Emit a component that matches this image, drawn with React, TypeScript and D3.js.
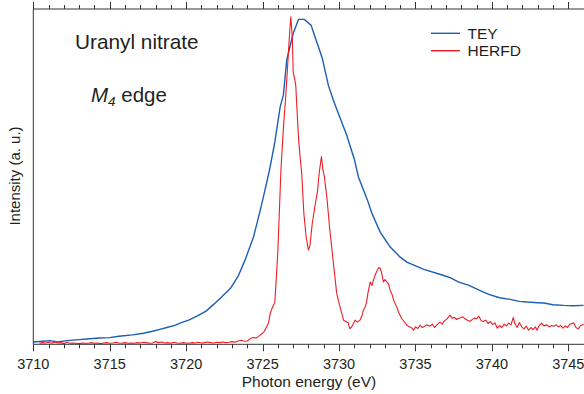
import { useEffect, useRef } from 'react';
import * as d3 from 'd3';

// TEY (total electron yield)
const teyEnergy = [
  3710.0, 3710.6, 3711.1, 3711.6, 3712.2, 3713.0, 3713.5, 3714.3, 3715.0, 3715.6, 3716.5, 3717.2, 3717.8,
  3718.4, 3718.8, 3719.3, 3719.6, 3720.2, 3720.7, 3721.3, 3721.8, 3722.3, 3722.9, 3723.4, 3723.85, 3724.4,
  3724.8, 3725.05, 3725.45, 3725.8, 3726.15, 3726.36, 3726.58, 3727.0, 3727.35, 3727.73, 3728.17, 3728.55,
  3728.9, 3729.3, 3729.63, 3730.07, 3730.5, 3731.0, 3731.27, 3731.86, 3732.15, 3732.7, 3733.35, 3734.0,
  3734.44, 3735.5, 3736.8, 3737.3, 3737.8, 3738.5, 3739.2, 3739.8, 3740.5, 3741.2, 3741.8, 3742.3, 3743.0,
  3743.4, 3744.0, 3744.7, 3745.3, 3746.0,
];
const teyIntensity = [
  0.7, 0.9, 1.1, 0.7, 1.1, 1.4, 1.6, 1.9, 2.0, 2.4, 2.8, 3.3, 3.9,
  4.6, 5.1, 5.7, 6.3, 7.3, 8.4, 9.9, 11.9, 14.0, 16.7, 20.3, 25.1, 31.9,
  39.1, 43.9, 51.9, 60.3, 70.8, 74.3, 84.8, 92.7, 96.9, 96.9, 95.2, 90.1,
  85.4, 77.3, 72.8, 67.5, 62.4, 55.2, 49.9, 43.0, 39.1, 33.4, 29.0, 26.0,
  24.5, 22.4, 20.6, 19.8, 18.6, 17.6, 16.1, 14.9, 13.9, 13.4, 12.8, 12.6, 12.4,
  12.3, 11.8, 11.6, 11.5, 11.6,
];

// HERFD
const herfdEnergy = [
  3710.4, 3710.6, 3710.8, 3711.0, 3711.2, 3711.4, 3711.6, 3711.8, 3712.0, 3712.2, 3712.4, 3712.6, 3712.8,
  3713.0, 3713.2, 3713.4, 3713.6, 3713.8, 3714.0, 3714.2, 3714.4, 3714.6, 3714.8, 3715.0, 3715.2, 3715.4,
  3715.6, 3715.8, 3716.0, 3716.2, 3716.4, 3716.6, 3716.8, 3717.0, 3717.2, 3717.4, 3717.6, 3717.8, 3718.0,
  3718.2, 3718.4, 3718.6, 3718.8, 3719.0, 3719.2, 3719.4, 3719.6, 3719.8, 3720.0, 3720.2, 3720.4, 3720.6,
  3720.8, 3721.0, 3721.2, 3721.4, 3721.6, 3721.8, 3722.0, 3722.2, 3722.4, 3722.6, 3722.8, 3723.0, 3723.2,
  3723.4, 3723.6, 3723.8, 3724.0, 3724.2, 3724.4, 3724.6, 3724.8, 3725.0, 3725.1, 3725.2, 3725.3, 3725.4,
  3725.5, 3725.6, 3725.7, 3725.8, 3725.9, 3726.0, 3726.1, 3726.2, 3726.3, 3726.4, 3726.5, 3726.6, 3726.7,
  3726.8, 3726.85, 3726.95, 3727.0, 3727.1, 3727.17, 3727.25, 3727.35, 3727.45, 3727.56, 3727.7, 3727.85,
  3728.0, 3728.1, 3728.25, 3728.42, 3728.6, 3728.7, 3728.85, 3728.95, 3729.04, 3729.2, 3729.4, 3729.6,
  3729.85, 3730.07, 3730.3, 3730.45, 3730.6, 3730.7, 3730.8, 3730.9, 3731.05, 3731.2, 3731.37, 3731.5,
  3731.6, 3731.7, 3731.8, 3731.9, 3732.04, 3732.15, 3732.25, 3732.35, 3732.5, 3732.6, 3732.7, 3732.8,
  3732.9, 3733.0, 3733.1, 3733.23, 3733.35, 3733.45, 3733.6, 3733.78, 3733.9, 3734.1, 3734.25, 3734.44,
  3734.6, 3734.75, 3734.87, 3735.0, 3735.15, 3735.3, 3735.45, 3735.6, 3735.75, 3735.96, 3736.1, 3736.25,
  3736.4, 3736.6, 3736.75, 3736.9, 3737.05, 3737.26, 3737.4, 3737.55, 3737.7, 3737.8, 3737.95, 3738.1,
  3738.25, 3738.4, 3738.55, 3738.7, 3738.85, 3739.0, 3739.15, 3739.3, 3739.45, 3739.6, 3739.75, 3739.9,
  3740.05, 3740.2, 3740.35, 3740.5, 3740.65, 3740.8, 3740.95, 3741.1, 3741.25, 3741.4, 3741.5, 3741.65,
  3741.8, 3741.95, 3742.1, 3742.25, 3742.4, 3742.55, 3742.7, 3742.85, 3742.95, 3743.1, 3743.25, 3743.4,
  3743.6, 3743.75, 3743.9, 3744.05, 3744.2, 3744.35, 3744.5, 3744.65, 3744.8, 3744.95, 3745.1, 3745.25,
  3745.35, 3745.5, 3745.65, 3745.8, 3746.0,
];
const herfdIntensity = [
  0.3, 0.5, 0.4, 0.6, 0.3, 0.7, 0.4, 0.5, 0.2, 0.6, 0.3, 0.4, 0.3,
  0.2, 0.4, 0.3, 0.3, 0.5, 0.3, 0.4, 0.2, 0.4, 0.5, 0.3, 0.4, 0.6,
  0.4, 0.3, 0.5, 0.3, 0.4, 0.3, 0.5, 0.4, 0.6, 0.5, 0.3, 0.4, 0.8,
  0.5, 0.7, 0.4, 0.5, 0.3, 0.6, 0.4, 0.3, 0.5, 0.4, 0.3, 0.5, 0.4,
  0.6, 0.4, 0.5, 0.7, 0.5, 0.4, 0.6, 0.5, 0.7, 0.5, 0.6, 0.8, 0.6,
  1.0, 1.2, 0.9, 1.0, 1.7, 2.0, 1.9, 2.6, 3.3, 3.8, 4.6, 5.5, 6.6,
  9.2, 10.5, 11.5, 12.5, 20.0, 28.0, 40.0, 52.0, 60.0, 67.0, 73.0, 80.0, 88.0,
  95.0, 97.7, 91.0, 81.3, 79.0, 77.3, 70.0, 61.5, 56.0, 51.0, 39.0, 32.0,
  28.1, 29.5, 36.1, 41.0, 46.0, 51.0, 56.0, 52.0, 50.0, 44.0, 34.0, 25.6,
  15.1, 11.1, 7.2, 6.8, 6.4, 4.7, 5.0, 5.8, 7.2, 6.6, 7.2, 8.5,
  10.2, 11.0, 12.6, 15.5, 18.6, 17.5, 19.1, 20.5, 22.1, 22.9, 22.6, 21.0,
  18.6, 19.3, 18.8, 18.1, 16.0, 15.1, 12.8, 11.1, 9.5, 7.7, 6.8, 5.7,
  5.2, 4.9, 4.2, 5.2, 4.7, 5.7, 5.0, 5.4, 5.8, 5.4, 6.0, 5.0,
  5.8, 6.6, 6.0, 7.0, 7.5, 8.7, 7.8, 8.0, 7.4, 7.7, 7.9, 8.2,
  7.6, 7.2, 6.9, 7.3, 7.8, 7.6, 8.4, 7.0, 6.8, 7.2, 6.2, 6.8,
  5.9, 6.4, 4.8, 5.6, 5.0, 6.0, 5.5, 6.3, 5.8, 8.0, 6.2, 5.0,
  6.5, 5.2, 4.6, 5.4, 4.2, 5.0, 4.4, 5.2, 4.2, 5.6, 6.3, 5.5,
  5.8, 5.2, 5.6, 5.4, 5.8, 5.2, 5.6, 4.8, 5.5, 5.0, 6.0, 6.2,
  6.4, 5.0, 4.6, 5.6, 6.0,
];

const majorTicks = [3710, 3715, 3720, 3725, 3730, 3735, 3740, 3745];
const minorTicks = d3.range(3710, 3747, 1);

const WIDTH = 584;
const HEIGHT = 394;
const TEXT = '#231f20';
const BLUE = '#1a5fb4';
const RED = '#ee1d25';
const FONT = "'Liberation Sans', Arial, Helvetica, sans-serif";

export default function App() {
  const ref = useRef<SVGSVGElement>(null);

  useEffect(() => {
    if (!ref.current) return;
    const svg = d3.select(ref.current);
    svg.selectAll('*').remove();

    const x = d3.scaleLinear().domain([3710, 3746]).range([33.3, 583.6]);
    const y = d3.scaleLinear().domain([0, 100]).range([344.3, 9]);
    const left = x(3710);
    const top = y(100);
    const bottom = y(0);

    const line = d3
      .line<[number, number]>()
      .x((d) => x(d[0]))
      .y((d) => y(d[1]));

    const tey = teyEnergy.map((e, i) => [e, teyIntensity[i]] as [number, number]);
    const herfd = herfdEnergy.map((e, i) => [e, herfdIntensity[i]] as [number, number]);

    svg.append('path').datum(tey).attr('fill', 'none').attr('stroke', BLUE).attr('stroke-width', 1.4).attr('d', line);
    svg.append('path').datum(herfd).attr('fill', 'none').attr('stroke', RED).attr('stroke-width', 1.1).attr('stroke-linejoin', 'round').attr('d', line);

    // frame: left, bottom and top
    const axis = svg.append('g').attr('stroke', '#333').attr('stroke-width', 1).attr('fill', 'none');
    axis.append('line').attr('x1', left).attr('x2', WIDTH).attr('y1', bottom).attr('y2', bottom);
    axis.append('line').attr('x1', left).attr('x2', WIDTH).attr('y1', top).attr('y2', top);
    axis.append('line').attr('x1', left).attr('x2', left).attr('y1', top).attr('y2', bottom);

    minorTicks.forEach((t) => {
      const len = majorTicks.includes(t) ? 7 : 4;
      const px = Math.round(x(t)) + 0.5;
      axis.append('line').attr('x1', px).attr('x2', px).attr('y1', bottom).attr('y2', bottom + len);
      axis.append('line').attr('x1', px).attr('x2', px).attr('y1', top).attr('y2', top - len);
    });

    svg
      .append('g')
      .selectAll('text')
      .data(majorTicks)
      .join('text')
      .attr('x', (d) => x(d))
      .attr('y', 369)
      .attr('text-anchor', 'middle')
      .attr('font-size', 14.5)
      .attr('font-family', FONT)
      .attr('fill', TEXT)
      .text((d) => String(d));

    svg
      .append('text')
      .attr('x', 309)
      .attr('y', 387)
      .attr('text-anchor', 'middle')
      .attr('font-size', 15.5)
      .attr('font-family', FONT)
      .attr('fill', TEXT)
      .text('Photon energy (eV)');

    svg
      .append('text')
      .attr('transform', 'translate(20,176) rotate(-90)')
      .attr('text-anchor', 'middle')
      .attr('font-size', 15)
      .attr('font-family', FONT)
      .attr('fill', TEXT)
      .text('Intensity (a. u.)');

    svg
      .append('text')
      .attr('x', 75)
      .attr('y', 49)
      .attr('font-size', 20.8)
      .attr('font-family', FONT)
      .attr('fill', TEXT)
      .text('Uranyl nitrate');

    const m4 = svg.append('text').attr('x', 91).attr('y', 102).attr('font-size', 20.5).attr('font-family', FONT).attr('fill', TEXT);
    m4.append('tspan').attr('font-style', 'italic').text('M');
    m4.append('tspan').attr('font-style', 'italic').attr('font-size', 13.5).attr('dy', 4).text('4');
    m4.append('tspan').attr('dy', -4).text(' edge');

    const legend = [
      { label: 'TEY', color: BLUE, y: 33.3 },
      { label: 'HERFD', color: RED, y: 50.7 },
    ];
    legend.forEach((l) => {
      svg.append('line').attr('x1', 431).attr('x2', 460).attr('y1', l.y).attr('y2', l.y).attr('stroke', l.color).attr('stroke-width', 1.4);
      svg
        .append('text')
        .attr('x', 467.5)
        .attr('y', l.y + 5.3)
        .attr('font-size', 15.5)
        .attr('font-family', FONT)
        .attr('fill', TEXT)
        .text(l.label);
    });
  }, []);

  return <svg ref={ref} width={WIDTH} height={HEIGHT} style={{ position: 'absolute', left: 0, top: 0, background: '#fff' }} />;
}
